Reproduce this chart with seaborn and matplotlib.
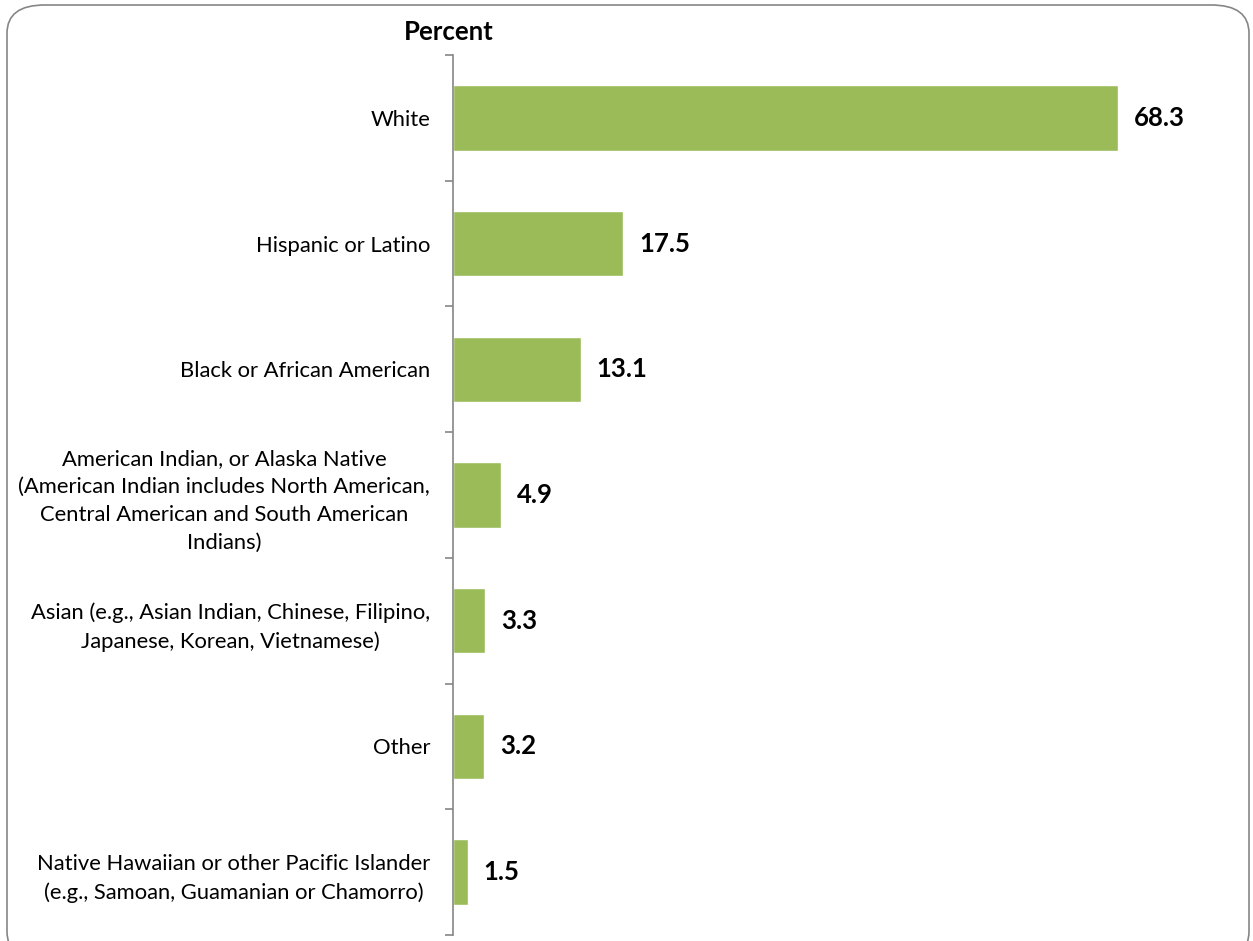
import matplotlib
matplotlib.use("Agg")
import matplotlib.pyplot as plt
import seaborn as sns
import pandas as pd
from matplotlib.patches import FancyBboxPatch

categories = [
    "White",
    "Hispanic or Latino",
    "Black or African American",
    "American Indian, or Alaska Native\n(American Indian includes North American,\nCentral American and South American\nIndians)",
    "Asian (e.g., Asian Indian, Chinese, Filipino,\nJapanese, Korean, Vietnamese)",
    "Other",
    "Native Hawaiian or other Pacific Islander\n(e.g., Samoan, Guamanian or Chamorro)",
]
values = [68.3, 17.5, 13.1, 4.9, 3.3, 3.2, 1.5]
value_labels = ["68.3", "17.5", "13.1", "4.9", "3.3", "3.2", "1.5"]

sns.set_style("white")
plt.rcParams['font.family'] = ['Lato', 'DejaVu Sans']

df = pd.DataFrame({"cat": categories, "val": values})

fig = plt.figure(figsize=(12.53, 9.41), dpi=100)
ax = fig.add_axes([453/1253, 1-935/941, (1232-453)/1253, (935-55)/941])

sns.barplot(data=df, x="val", y="cat", orient="h", color="#9BBB59",
            saturation=1, width=0.52, ax=ax)

ax.set_xlim(0, 80)
ax.set_ylim(len(categories)-0.5, -0.5)
for s in ["top", "right", "bottom"]:
    ax.spines[s].set_visible(False)
ax.spines["left"].set_color("#868686")
ax.spines["left"].set_linewidth(1.2)
ax.set_xticks([])
ax.set_xlabel("")
ax.set_ylabel("")

# major ticks at boundaries, labels on minor ticks
ax.set_yticks([i - 0.5 for i in range(len(categories)+1)])
ax.set_yticklabels([])
ax.tick_params(axis="y", which="major", length=6, width=1.2, color="#868686", direction="out", left=True)
ax.set_yticks(list(range(len(categories))), minor=True)
ax.set_yticklabels(categories, minor=True, fontsize=15.8, ha="right", color="black")
ax.tick_params(axis="y", which="minor", length=0, pad=16.5)
for lbl in ax.get_yticklabels(minor=True):
    lbl.set_multialignment("center")
    lbl.set_linespacing(1.5)

for i, (v, t) in enumerate(zip(values, value_labels)):
    ax.text(v + 1.65, i, t, va="center", ha="left", fontsize=18.5, fontweight="bold", color="black")

fig.text(449/1253, 1-32/941, "Percent", ha="center", va="center", fontsize=18.5, fontweight="bold", color="black")

border = FancyBboxPatch((7/1253, -0.02), (1249-7)/1253, (1-5/941) + 0.02,
                        boxstyle="round,pad=0,rounding_size=0.03",
                        transform=fig.transFigure, fill=False, edgecolor="#868686",
                        linewidth=1.2, clip_on=False)
fig.patches.append(border)

fig.savefig("out.png", dpi=100)
